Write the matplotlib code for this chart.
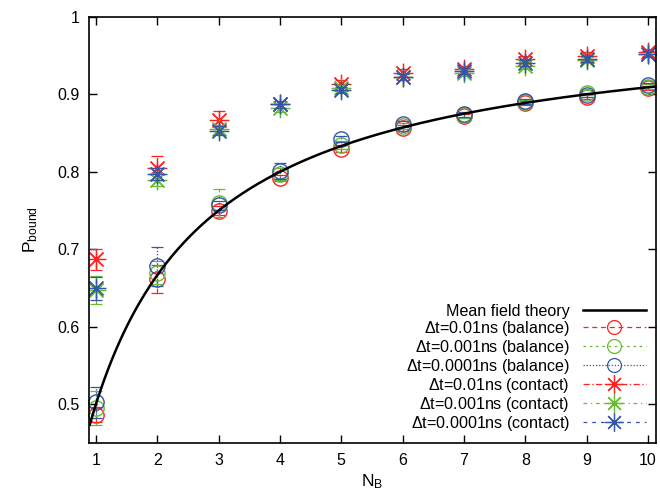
import numpy as np
import matplotlib.pyplot as plt
from matplotlib.lines import Line2D
from matplotlib.ticker import FormatStrFormatter

plt.rcParams['font.family'] = ['Liberation Sans', 'DejaVu Sans']
plt.rcParams['mathtext.fontset'] = 'custom'
plt.rcParams['mathtext.rm'] = 'Liberation Sans'
plt.rcParams['mathtext.it'] = 'Liberation Sans'

nb = [1, 2, 3, 4, 5, 6, 7, 8, 9, 10]

# balance runs
bal_001 = [0.487, 0.662, 0.750, 0.792, 0.830, 0.857, 0.872, 0.889, 0.897, 0.908]
bal_0001 = [0.495, 0.670, 0.760, 0.797, 0.835, 0.859, 0.873, 0.890, 0.902, 0.910]
bal_00001 = [0.503, 0.678, 0.757, 0.801, 0.842, 0.862, 0.874, 0.891, 0.899, 0.912]
bal_err_001 = [0.010, 0.018, 0.006, 0.004, 0.004, 0.004, 0.003, 0.003, 0.003, 0.003]
bal_err_0001 = [0.022, 0.015, 0.018, 0.008, 0.005, 0.004, 0.003, 0.003, 0.003, 0.003]
bal_err_00001 = [0.020, 0.025, 0.006, 0.010, 0.004, 0.004, 0.003, 0.003, 0.003, 0.003]

# contact runs
con_001 = [0.687, 0.805, 0.867, 0.887, 0.913, 0.927, 0.932, 0.946, 0.950, 0.954]
con_0001 = [0.648, 0.790, 0.855, 0.882, 0.908, 0.922, 0.928, 0.936, 0.944, 0.952]
con_00001 = [0.650, 0.797, 0.853, 0.887, 0.906, 0.922, 0.930, 0.940, 0.946, 0.952]
con_err_001 = [0.014, 0.015, 0.012, 0.005, 0.005, 0.005, 0.004, 0.004, 0.004, 0.004]
con_err_0001 = [0.018, 0.008, 0.006, 0.005, 0.004, 0.004, 0.004, 0.004, 0.004, 0.004]
con_err_00001 = [0.015, 0.008, 0.006, 0.005, 0.004, 0.004, 0.004, 0.004, 0.004, 0.004]

labels = ['Mean field theory',
          r'$\Delta$t=0.01ns (balance)', r'$\Delta$t=0.001ns (balance)',
          r'$\Delta$t=0.0001ns (balance)', r'$\Delta$t=0.01ns (contact)',
          r'$\Delta$t=0.001ns (contact)', r'$\Delta$t=0.0001ns (contact)']

red, green, blue = '#ff2020', '#66bb33', '#3355aa'
star = (8, 2, 0)

fig = plt.figure(figsize=(6.6, 4.93), dpi=100)
ax = fig.add_axes([0.135, 0.101, 0.859, 0.865])

# mean field theory: P = N / (N + 1)
xt = np.linspace(0.9, 10.1, 300)
ax.plot(xt, xt / (xt + 1), color='black', lw=1.8, zorder=5)

series = [
    (bal_001, bal_err_001, red, (0, (4, 3)), 'o'),
    (bal_0001, bal_err_0001, green, (0, (2, 3)), 'o'),
    (bal_00001, bal_err_00001, blue, (0, (1, 1.5)), 'o'),
    (con_001, con_err_001, red, (0, (5, 2, 1, 2)), star),
    (con_0001, con_err_0001, green, (0, (3, 3, 1, 3)), star),
    (con_00001, con_err_00001, blue, (0, (3, 4)), star),
]

handles = [Line2D([], [], color='black', lw=1.8)]
for y, e, c, ls, m in series:
    _, caps, bars = ax.errorbar(nb, y, yerr=e, fmt='none', ecolor=c,
                                elinewidth=0.9, capsize=4, capthick=0.9)
    for b in bars:
        b.set_linestyle(ls)
    if m == 'o':
        ax.plot(nb, y, ls='none', marker='o', ms=11, mfc='none',
                mec=c, mew=1.0, clip_on=False)
    else:
        ax.plot(nb, y, ls='none', marker=m, ms=14, mec=c, color=c, mew=0.9)
    handles.append(Line2D([], [], color=c, ls=ls, lw=0.9, marker=m,
                          ms=10 if m == 'o' else 13, mfc='none', mec=c,
                          mew=0.9))

ax.set_xlim(0.89, 10.13)
ax.set_ylim(0.45, 1.0)
ax.set_xticks(nb)
ax.set_yticks([0.5, 0.6, 0.7, 0.8, 0.9, 1.0])
ax.yaxis.set_major_formatter(FormatStrFormatter('%g'))
ax.tick_params(direction='in', top=True, right=True, length=6,
               width=1, labelsize=11.5, pad=7)
for s in ax.spines.values():
    s.set_linewidth(1.2)

ax.set_xlabel(r'N$_\mathrm{B}$', fontsize=12.5, labelpad=3)
ax.set_ylabel(r'P$_\mathrm{bound}$', fontsize=12.5, labelpad=12)

ax.legend(handles, labels, loc='lower right', frameon=False,
          markerfirst=False, fontsize=11.6, handlelength=3.9,
          labelspacing=0.0, borderaxespad=0.25, handletextpad=0.8)

fig.savefig('out.png', dpi=100)
